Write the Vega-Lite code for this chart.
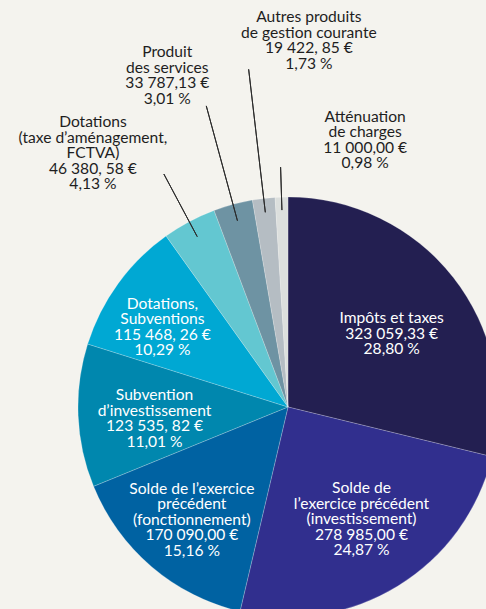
{
  "$schema": "https://vega.github.io/schema/vega-lite/v6.json",
  "width": 576,
  "height": 814,
  "autosize": {"type": "none"},
  "padding": {"left": 0, "top": 0, "right": -90, "bottom": -205},
  "background": "#f4f3ee",
  "config": {"view": {"stroke": null}, "text": {"font": "Lato", "fontSize": 15.6, "lineHeight": 15.5, "lineBreak": "\n", "align": "center", "baseline": "middle"}},
  "data": {
    "values": [
      {"rang": 1, "poste": "Impôts et taxes", "montant": 323059.33, "etiquette": "Impôts et taxes\n323 059,33 €\n28,80 %"},
      {"rang": 2, "poste": "Solde de l’exercice précédent (investissement)", "montant": 278985.00, "etiquette": "Solde de\nl’exercice précédent\n(investissement)\n278 985,00 €\n24,87 %"},
      {"rang": 3, "poste": "Solde de l’exercice précédent (fonctionnement)", "montant": 170090.00, "etiquette": "Solde de l’exercice\nprécédent\n(fonctionnement)\n170 090,00 €\n15,16 %"},
      {"rang": 4, "poste": "Subvention d’investissement", "montant": 123535.82, "etiquette": "Subvention\nd’investissement\n123 535, 82 €\n11,01 %"},
      {"rang": 5, "poste": "Dotations, Subventions", "montant": 115468.26, "etiquette": "Dotations,\nSubventions\n115 468, 26 €\n10,29 %"},
      {"rang": 6, "poste": "Dotations (taxe d’aménagement, FCTVA)", "montant": 46380.58, "etiquette": "Dotations\n(taxe d’aménagement,\nFCTVA)\n46 380, 58 €\n4,13 %"},
      {"rang": 7, "poste": "Produit des services", "montant": 33787.13, "etiquette": "Produit\ndes services\n33 787,13 €\n3,01 %"},
      {"rang": 8, "poste": "Autres produits de gestion courante", "montant": 19422.85, "etiquette": "Autres produits\nde gestion courante\n19 422, 85 €\n1,73 %"},
      {"rang": 9, "poste": "Atténuation de charges", "montant": 11000.00, "etiquette": "Atténuation\nde charges\n11 000,00 €\n0,98 %"}
    ]
  },
  "encoding": {
    "theta": {"field": "montant", "type": "quantitative", "stack": true},
    "order": {"field": "rang", "type": "quantitative"}
  },
  "layer": [
    {
      "mark": {"type": "arc", "outerRadius": 210, "stroke": "#ffffff", "strokeWidth": 0.6, "strokeOpacity": 0.35},
      "encoding": {
        "color": {
          "field": "poste", "type": "nominal", "legend": null,
          "scale": {
            "domain": ["Impôts et taxes", "Solde de l’exercice précédent (investissement)", "Solde de l’exercice précédent (fonctionnement)", "Subvention d’investissement", "Dotations, Subventions", "Dotations (taxe d’aménagement, FCTVA)", "Produit des services", "Autres produits de gestion courante", "Atténuation de charges"],
            "range": ["#231f51", "#312f8e", "#0062a2", "#0087ae", "#00a8d3", "#63c7d1", "#6e93a3", "#b5bdc3", "#dcdfdd"]
          }
        }
      }
    },
    {
      "mark": {"type": "arc", "innerRadius": 193, "outerRadius": 264, "padAngle": 1.5, "fillOpacity": 0, "stroke": "#2b2b2b", "strokeWidth": 1},
      "encoding": {"strokeOpacity": {"condition": {"test": "datum.rang === 6", "value": 1}, "value": 0}}
    },
    {
      "mark": {"type": "arc", "innerRadius": 193, "outerRadius": 312, "padAngle": 1.5, "fillOpacity": 0, "stroke": "#2b2b2b", "strokeWidth": 1},
      "encoding": {"strokeOpacity": {"condition": {"test": "datum.rang === 7", "value": 1}, "value": 0}}
    },
    {
      "mark": {"type": "arc", "innerRadius": 196, "outerRadius": 340, "padAngle": 1.5, "fillOpacity": 0, "stroke": "#2b2b2b", "strokeWidth": 1},
      "encoding": {"strokeOpacity": {"condition": {"test": "datum.rang === 8", "value": 1}, "value": 0}}
    },
    {
      "mark": {"type": "arc", "innerRadius": 197, "outerRadius": 240, "padAngle": 1.5, "fillOpacity": 0, "stroke": "#2b2b2b", "strokeWidth": 1},
      "encoding": {"strokeOpacity": {"condition": {"test": "datum.rang === 9", "value": 1}, "value": 0}}
    },
    {
      "mark": {"type": "text", "radius": 127, "thetaOffset": 0.05, "dy": -15.5, "fill": "#ffffff"},
      "encoding": {"text": {"condition": {"test": "datum.rang === 1", "field": "etiquette"}, "value": ""}}
    },
    {
      "mark": {"type": "text", "radius": 134, "thetaOffset": -0.03, "dy": -31, "fill": "#ffffff"},
      "encoding": {"text": {"condition": {"test": "datum.rang === 2", "field": "etiquette"}, "value": ""}}
    },
    {
      "mark": {"type": "text", "radius": 148, "dy": -31, "fill": "#ffffff"},
      "encoding": {"text": {"condition": {"test": "datum.rang === 3", "field": "etiquette"}, "value": ""}}
    },
    {
      "mark": {"type": "text", "radius": 134, "thetaOffset": -0.045, "dy": -23.25, "fill": "#ffffff"},
      "encoding": {"text": {"condition": {"test": "datum.rang === 4", "field": "etiquette"}, "value": ""}}
    },
    {
      "mark": {"type": "text", "radius": 149, "thetaOffset": -0.06, "dy": -23.25, "fill": "#ffffff"},
      "encoding": {"text": {"condition": {"test": "datum.rang === 5", "field": "etiquette"}, "value": ""}}
    },
    {
      "mark": {"type": "text", "radius": 320, "thetaOffset": -0.166, "dy": -31, "fill": "#1e1e1e"},
      "encoding": {"text": {"condition": {"test": "datum.rang === 6", "field": "etiquette"}, "value": ""}}
    },
    {
      "mark": {"type": "text", "radius": 353, "thetaOffset": -0.084, "dy": -23.25, "fill": "#1e1e1e"},
      "encoding": {"text": {"condition": {"test": "datum.rang === 7", "field": "etiquette"}, "value": ""}}
    },
    {
      "mark": {"type": "text", "radius": 367, "thetaOffset": 0.173, "dy": -23.25, "fill": "#1e1e1e"},
      "encoding": {"text": {"condition": {"test": "datum.rang === 8", "field": "etiquette"}, "value": ""}}
    },
    {
      "mark": {"type": "text", "radius": 278, "thetaOffset": 0.312, "dy": -23.25, "fill": "#1e1e1e"},
      "encoding": {"text": {"condition": {"test": "datum.rang === 9", "field": "etiquette"}, "value": ""}}
    }
  ]
}
